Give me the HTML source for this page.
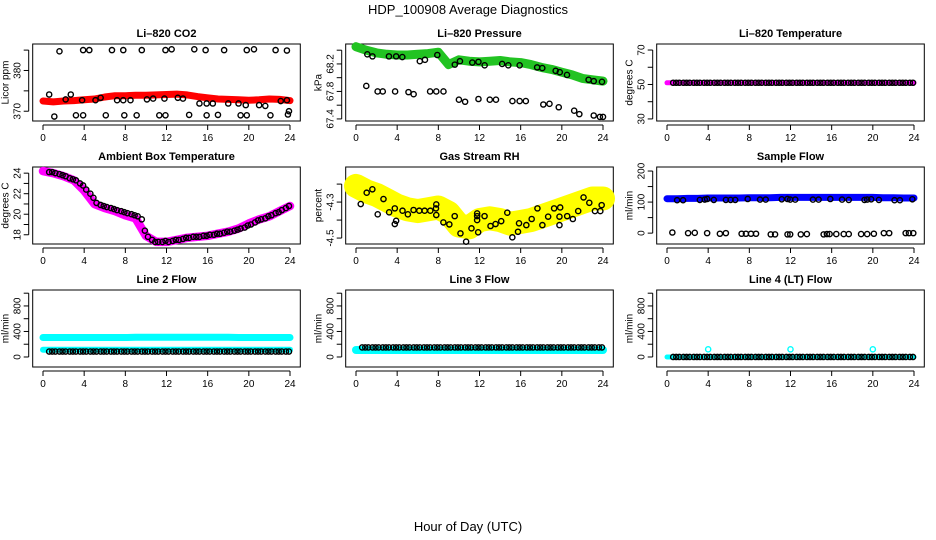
<!DOCTYPE html>
<html><head><meta charset="utf-8"><style>
html,body{margin:0;padding:0;background:#fff;}
svg{display:block;font-family:"Liberation Sans",sans-serif;}
</style></head><body>
<svg id="c" width="936" height="540" viewBox="0 0 936 540">
<text x="468" y="14" text-anchor="middle" font-size="13">HDP_100908  Average Diagnostics</text>
<text x="468" y="531" text-anchor="middle" font-size="13">Hour of Day (UTC)</text>
</svg>
<script>
// ---- data ----
const hoursHourly=[0,1,2,3,4,5,6,7,8,9,10,11,12,13,14,15,16,17,18,19,20,21,22,23,24];
const hoursGrid=[0.6,0.9,1.2,1.6,1.9,2.2,2.6,2.9,3.2,3.6,3.9,4.2,4.6,4.9,5.2,5.6,5.9,6.2,6.6,6.9,7.2,7.6,7.9,8.2,8.6,8.9,9.2,9.6,9.9,10.2,10.6,10.9,11.2,11.6,11.9,12.2,12.6,12.9,13.2,13.6,13.9,14.2,14.6,14.9,15.2,15.6,15.9,16.2,16.6,16.9,17.2,17.6,17.9,18.2,18.6,18.9,19.2,19.6,19.9,20.2,20.6,20.9,21.2,21.6,21.9,22.2,22.6,22.9,23.2,23.6,23.9];

const co2Band=[372.5,372.3,372.5,372.6,372.8,373,373.5,373.8,373.8,373.9,373.9,374,374.1,374.2,374,373.6,373.3,373,372.9,372.8,372.7,372.8,373,372.9,372.6];
const co2BlackH=[0.6,2.2,2.7,3.8,5.1,5.6,7.2,7.8,8.5,10.1,10.7,11.8,13.1,13.6,15.2,15.9,16.5,18,19,19.7,21,21.6,23.1,23.7,23.9,1.6,3.9,4.5,6.7,7.8,9.6,11.9,12.5,14.7,15.8,17.6,19.8,20.5,22.6,23.7,1.1,3.2,3.9,6.1,7.9,9.1,11.3,11.9,14.2,15.9,17,19.2,19.8,22.1,23.8];
const co2BlackV=[374.1,372.9,374.1,372.7,372.7,373.3,372.7,372.7,372.7,372.9,373.1,373.1,373.3,373.1,371.9,371.9,371.9,371.9,371.9,371.5,371.5,371.3,372.5,372.7,370,384.7,385,385,385,385,385,385,385.2,385.2,385,385,385,385.2,385,384.9,368.7,369,369,369,369,369,369,369,369.1,369,369.1,369,369,369,369.2];

const presBand=[68.45,68.4,68.36,68.34,68.33,68.33,68.34,68.35,68.37,68.19,68.26,68.24,68.23,68.24,68.25,68.23,68.22,68.19,68.15,68.12,68.08,68.04,67.99,67.97,67.95];
const presBlackH=[1,2.1,2.6,3.8,5.1,5.6,7.2,7.8,8.5,10,10.6,11.9,13,13.6,15.2,15.9,16.5,18.2,18.8,19.7,21.2,21.7,23.1,23.7,24,1.1,1.6,3.2,3.9,4.5,6.2,6.7,7.9,9.6,10.1,11.3,11.9,12.5,14.2,14.8,15.9,17.6,18.1,19.4,19.8,20.5,22.6,23.1,23.9];
const presBlackV=[67.88,67.8,67.8,67.8,67.79,67.76,67.8,67.8,67.8,67.68,67.65,67.69,67.68,67.68,67.66,67.66,67.66,67.61,67.62,67.57,67.52,67.47,67.45,67.43,67.43,68.34,68.31,68.31,68.31,68.3,68.24,68.26,68.33,68.19,68.24,68.22,68.23,68.18,68.2,68.18,68.18,68.15,68.14,68.1,68.08,68.04,67.97,67.95,67.94];

const tempBand=[51,51,51,51,51,51,51,51,51,51,51,51,51,51,51,51,51,51,51,51,51,51,51,51,51];
const tempBlackV=[51,51,51,51,51,51,51,51,51,51,51,51,51,51,51,51,51,51,51,51,51,51,51,51,51,51,51,51,51,51,51,51,51,51,51,51,51,51,51,51,51,51,51,51,51,51,51,51,51,51,51,51,51,51,51,51,51,51,51,51,51,51,51,51,51,51,51,51,51,51,51];

const ambBand=[24.2,24,23.7,23.3,22.3,21,20.6,20.3,19.9,19.6,17.9,17.3,17.3,17.5,17.7,17.8,17.9,18.1,18.3,18.6,19.1,19.5,19.8,20.3,20.8];
const ambBlackV=[24.1,24.1,24,23.9,23.8,23.7,23.5,23.4,23.3,23,22.8,22.4,22,21.6,21.1,20.9,20.8,20.7,20.6,20.5,20.4,20.3,20.2,20.1,20,19.9,19.8,19.5,18.4,17.8,17.5,17.3,17.3,17.3,17.4,17.3,17.4,17.5,17.5,17.6,17.7,17.7,17.8,17.8,17.8,17.9,17.9,18,18,18.1,18.1,18.2,18.3,18.3,18.4,18.5,18.6,18.7,18.9,19,19.2,19.4,19.5,19.6,19.8,19.9,20.1,20.2,20.4,20.6,20.8];

const rhBand=[-4.21,-4.24,-4.26,-4.29,-4.32,-4.34,-4.35,-4.34,-4.33,-4.36,-4.43,-4.44,-4.4,-4.39,-4.4,-4.42,-4.41,-4.4,-4.38,-4.36,-4.34,-4.32,-4.3,-4.28,-4.28];
const rhBlackH=[0.46,1.04,1.59,2.11,2.67,3.22,3.77,3.9,3.77,4.52,5.04,5.59,6.15,6.67,7.22,7.77,7.8,7.8,8.49,9.07,9.59,10.15,10.7,11.22,11.77,11.77,11.77,11.87,12.49,13.07,13.56,14.11,14.7,15.19,15.74,15.84,16.55,17.07,17.63,18.11,18.67,19.25,19.77,19.84,19.77,20.52,21.07,21.59,22.11,22.67,23.22,23.74,23.87];
const rhBlackV=[-4.311,-4.248,-4.229,-4.368,-4.283,-4.357,-4.422,-4.404,-4.335,-4.348,-4.368,-4.344,-4.348,-4.348,-4.348,-4.335,-4.313,-4.372,-4.413,-4.424,-4.378,-4.474,-4.52,-4.446,-4.363,-4.378,-4.4,-4.468,-4.378,-4.433,-4.422,-4.406,-4.359,-4.496,-4.465,-4.418,-4.428,-4.394,-4.335,-4.428,-4.381,-4.335,-4.381,-4.33,-4.428,-4.378,-4.394,-4.35,-4.274,-4.304,-4.35,-4.35,-4.317];

const flowBand=[111,111,112,112,113,113,113,113,114,114,114,115,115,115,115,115,115,115,115,115,115,114,114,113,113];
const flowBlackH=[0.98,1.56,3.19,3.67,3.9,4.55,5.72,6.18,6.63,7.84,9.04,9.59,11.15,11.71,11.97,12.46,14.18,14.73,15.87,17.01,17.66,19.19,19.45,19.84,20.59,22.11,22.63,23.84,0.52,2.05,2.7,3.9,5.14,5.72,7.25,7.67,8.16,8.65,10.08,10.5,11.71,11.97,13,13.59,15.22,15.54,15.8,16.45,17.17,17.66,18.86,19.45,20.1,21.07,21.59,23.19,23.51,23.93];
const flowBlackV=[106,106,107,108,110,107,107,107,107,110,108,108,109,110,108,108,108,108,110,108,107,107,108,109,107,106,106,109,2,0,1,0,-2,0,-2,-2,-2,-2,-4,-4,-4,-4,-4,-3,-4,-3,-3,-3,-3,-3,-3,-3,-2,0,0,0,0,0];

const line2BandHigh=[305,305,305,305,305,306,306,306,306,308,308,308,308,308,308,308,308,308,308,306,306,306,306,306,306];
const line2BandLow=[112,112,112,112,112,112,112,112,112,112,112,112,112,112,112,112,112,112,112,112,112,112,112,112,112];
const line2Black=85;
const line3Band=[110,110,110,110,110,110,110,110,110,110,110,110,110,110,110,110,110,110,110,110,110,110,110,110,110];
const line3Black=150;
const line4Band=[0,0,0,0,0,0,0,0,0,0,0,0,0,0,0,0,0,0,0,0,0,0,0,0,0];
const line4SpikeH=[4,12,20];
const line4SpikeV=[120,120,120];
const line4Black=0;

const xTicks=[0,4,8,12,16,20,24];

// ---- drawing ----
const svg=document.getElementById('c');
const NS='http://www.w3.org/2000/svg';
function el(tag,attrs,parent){const e=document.createElementNS(NS,tag);for(const k in attrs)e.setAttribute(k,attrs[k]);(parent||svg).appendChild(e);return e;}
const colX=[43,356,667], rowY=[44,167,290], BH=77, XW=247;

function panel(id,col,row,title,ylab,ymin,ymax,yt,ylabels){
  const g=el('g',{});
  
  
  const x0=colX[col], top=rowY[row], bot=top+BH;
  const sx=h=>x0+h/24*XW;
  const sy=v=>bot-(v-ymin)/(ymax-ymin)*BH;
  const bl=x0-10.3, br=x0+XW+10.3;
  const box=el('rect',{x:bl,y:top,width:br-bl,height:BH,fill:'none',stroke:'#000','stroke-width':1},g);
  
  
  const t=el('text',{x:(bl+br)/2,y:top-7,'text-anchor':'middle','font-size':11,'font-weight':'bold'},g);
  t.textContent=title;
  
  
  const xa=el('g',{},g);
  
  
  el('line',{x1:sx(0),x2:sx(24),y1:bot+4,y2:bot+4,stroke:'#000'},xa);
  xTicks.forEach(h=>{el('line',{x1:sx(h),x2:sx(h),y1:bot+4,y2:bot+9,stroke:'#000'},xa);
    const tl=el('text',{x:sx(h),y:bot+20,'text-anchor':'middle','font-size':10},xa);tl.textContent=h;});
  const ya=el('g',{},g);
  
  
  el('line',{x1:bl-4,x2:bl-4,y1:sy(yt[0]),y2:sy(yt[yt.length-1]),stroke:'#000'},ya);
  yt.forEach(v=>el('line',{x1:bl-4,x2:bl-9,y1:sy(v),y2:sy(v),stroke:'#000'},ya));
  ylabels.forEach(v=>{const tl=el('text',{x:0,y:0,'text-anchor':'middle','font-size':10,transform:`translate(${bl-12},${sy(v)}) rotate(-90)`},ya);tl.textContent=v;});
  const yl=el('text',{x:0,y:0,'text-anchor':'middle','font-size':10,transform:`translate(${bl-24},${(top+bot)/2}) rotate(-90)`},g);
  yl.textContent=ylab;
  
  
  return {g,sx,sy};
}
function band(p,hs,vs,color,w,name){
  const d=hs.map((h,i)=>(i?'L':'M')+p.sx(h).toFixed(1)+','+p.sy(vs[i]).toFixed(1)).join('');
  const e=el('path',{d,fill:'none',stroke:color,'stroke-width':w,'stroke-linejoin':'round','stroke-linecap':'round'},p.g);
  
  
}
function pts(p,hs,vs,color,name){
  const g=el('g',{},p.g);
  
  
  hs.forEach((h,i)=>el('circle',{cx:p.sx(h),cy:p.sy(vs[i]),r:2.6,fill:'none',stroke:color,'stroke-width':1.4},g));
}
const constArr=(n,v)=>hoursGrid.map(()=>v);

let p=panel('co2',0,0,'Li\u2013820 CO2','Licor ppm',367.6,386.5,[370,375,380,385],[370,380]);
band(p,hoursHourly,co2Band,'#f00',7,'co2-band');
pts(p,co2BlackH,co2BlackV,'#000','co2-points');

p=panel('pressure',1,0,'Li\u2013820 Pressure','kPa',67.37,68.49,[67.4,67.6,67.8,68,68.2,68.4],[67.4,67.8,68.2]);
band(p,hoursHourly,presBand,'#22c322',9,'pressure-band');
pts(p,presBlackH,presBlackV,'#000','pressure-points');

p=panel('temperature',2,0,'Li\u2013820 Temperature','degrees C',28.8,73.5,[30,40,50,60,70],[30,50,70]);
band(p,hoursHourly,tempBand,'#f0f',5,'temperature-band');
pts(p,hoursGrid,tempBlackV,'#000','temperature-points');

p=panel('ambient',0,1,'Ambient Box Temperature','degrees C',17.1,24.6,[18,19,20,21,22,23,24],[18,20,22,24]);
band(p,hoursHourly,ambBand,'#f0f',8.5,'ambient-band');
pts(p,hoursGrid,ambBlackV,'#000','ambient-points');

p=panel('rh',1,1,'Gas Stream RH','percent',-4.533,-4.105,[-4.5,-4.4,-4.3,-4.2],[-4.5,-4.3]);
band(p,hoursHourly,rhBand,'#ff0',24,'rh-band');
pts(p,rhBlackH,rhBlackV,'#000','rh-points');

p=panel('sample-flow',2,1,'Sample Flow','ml/min',-35,213,[0,50,100,150,200],[0,100,200]);
band(p,hoursHourly,flowBand,'#00f',7,'sample-flow-band');
pts(p,flowBlackH,flowBlackV,'#000','sample-flow-points');

p=panel('line2',0,2,'Line 2 Flow','ml/min',-157,1050,[0,200,400,600,800,1000],[0,400,800]);
band(p,hoursHourly,line2BandHigh,'#0ff',7,'line2-band-high');
band(p,hoursHourly,line2BandLow,'#0ff',6,'line2-band-low');
pts(p,hoursGrid,constArr(0,line2Black),'#000','line2-points');

p=panel('line3',1,2,'Line 3 Flow','ml/min',-157,1050,[0,200,400,600,800,1000],[0,400,800]);
band(p,hoursHourly,line3Band,'#0ff',8,'line3-band');
pts(p,hoursGrid,constArr(0,line3Black),'#000','line3-points');

p=panel('line4',2,2,'Line 4 (LT) Flow','ml/min',-157,1050,[0,200,400,600,800,1000],[0,400,800]);
band(p,hoursHourly,line4Band,'#0ff',5,'line4-band');
pts(p,line4SpikeH,line4SpikeV,'#0ff','line4-spikes');
pts(p,hoursGrid,constArr(0,line4Black),'#000','line4-points');
</script>
</body></html>
